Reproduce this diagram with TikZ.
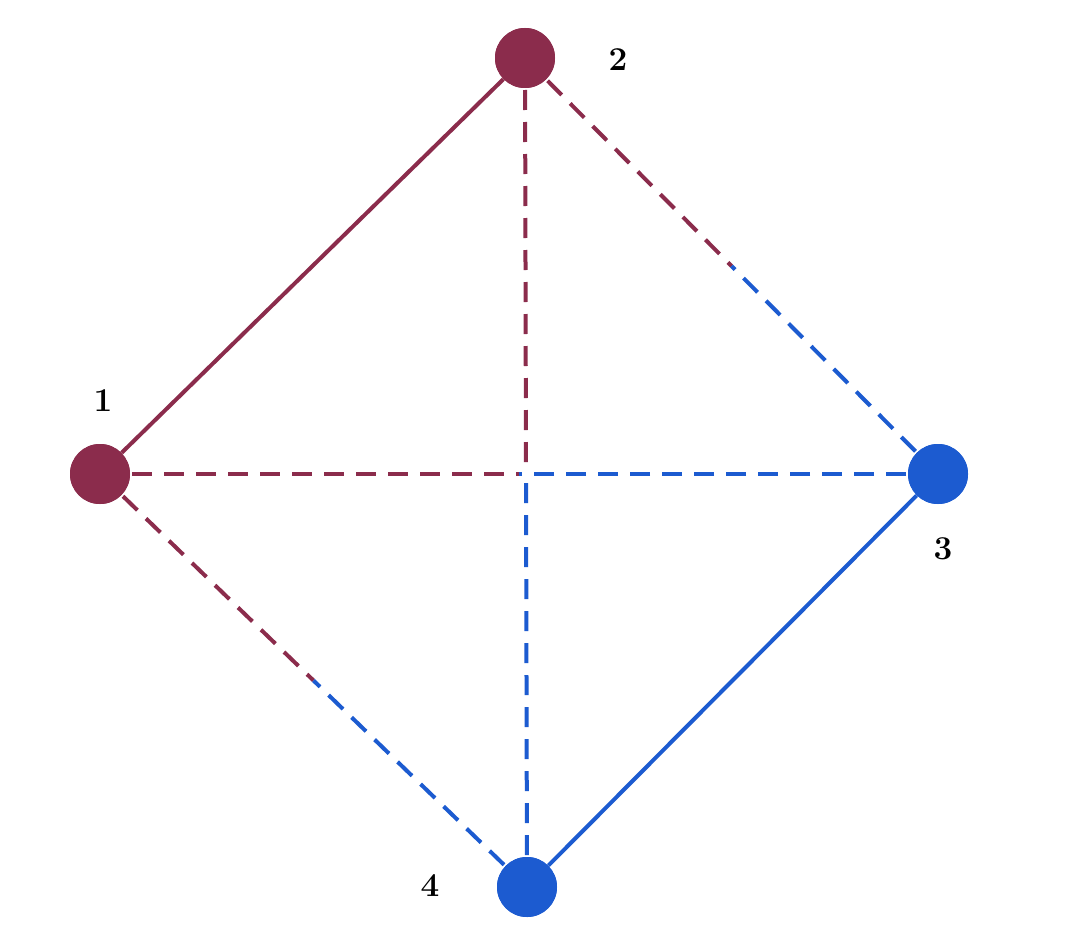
\documentclass[tikz,border=0pt]{standalone}
\usetikzlibrary{calc}
\definecolor{wine}{HTML}{8B2C4C}
\definecolor{azure}{HTML}{1C5BD0}
\begin{document}
\begin{tikzpicture}[x=0.75pt,y=-0.75pt]
	\tikzset{vertex/.style={circle,inner sep=0pt,minimum size=45pt},
		lbl/.style={font=\fontsize{25}{30}\selectfont\bfseries},
		edge/.style={line width=3pt},
		dashedge/.style={line width=3pt,dash pattern=on 15pt off 9pt}}
	\useasboundingbox (0,0) rectangle (1070,942);
	% vertices
	\node [vertex,fill=wine] (v1) at (100,474) {};
	\node [vertex,fill=wine] (v2) at (525,58) {};
	\node [vertex,fill=azure] (v3) at (938,474) {};
	\node [vertex,fill=azure] (v4) at (527,887) {};
	\node [lbl] (l1) at (103,401) {1};
	\node [lbl] (l2) at (618,60) {2};
	\node [lbl] (l3) at (943,549) {3};
	\node [lbl] (l4) at (430,886) {4};
	% midpoints
	\coordinate (m13) at ($(v1)!0.5!(v3)$);
	\coordinate (m24) at ($(v2)!0.5!(v4)$);
	\coordinate (m23) at ($(v2)!0.5!(v3)$);
	\coordinate (m14) at ($(v1)!0.5!(v4)$);
	% edges
	\draw [edge,wine] (v1) -- (v2);
	\draw [edge,azure] (v3) -- (v4);
	\draw [dashedge,wine] (v1.center) -- (m13);
	\draw [dashedge,azure] (v3.center) -- (m13);
	\draw [dashedge,wine] (v2.center) -- (m24);
	\draw [dashedge,azure] (v4.center) -- (m24);
	\draw [dashedge,wine] (v2.center) -- (m23);
	\draw [dashedge,azure] (v3.center) -- (m23);
	\draw [dashedge,wine] (v1.center) -- (m14);
	\draw [dashedge,azure] (v4.center) -- (m14);
	% redraw vertices on top
	\foreach \v/\c in {v1/wine,v2/wine,v3/azure,v4/azure}
		\fill [\c] (\v) circle (22.5pt);
\end{tikzpicture}
\end{document}
